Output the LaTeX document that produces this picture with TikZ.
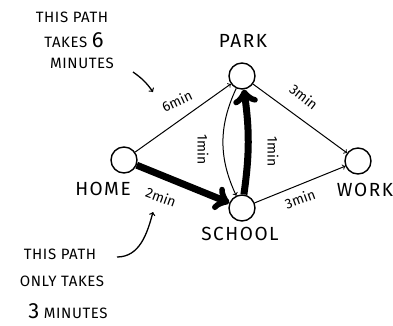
\documentclass[tikz,border=0pt]{standalone}
\usepackage{fontspec}
\setmainfont{Fira Sans}
\tikzset{
    place/.style={draw, circle, line width=1.4pt, minimum size=26pt, inner sep=0pt},
    caps/.style={font=\fontsize{19}{21}\selectfont\addfontfeature{LetterSpace=8}},
    note/.style={font=\fontsize{15}{17}\selectfont\addfontfeature{LetterSpace=4}},
    cost/.style={font=\fontsize{14}{15}\selectfont, inner sep=0pt},
    road/.style={->, line width=1pt},
    fast/.style={->, line width=7pt}
}
\begin{document}
\begin{tikzpicture}[x=1pt,y=-1pt]
        \useasboundingbox (0,0) rectangle (393,325);
        % places
            \foreach \n/\x/\y in {home/124/160,park/242/76,school/242/208,work/358/161}{
                \node[place] (\n) at (\x,\y) {};
            }
            \node[caps] (homelabel) at (103,189) {HOME};
            \node[caps] (parklabel) at (243,41) {PARK};
            \node[caps] (schoollabel) at (240,234) {SCHOOL};
            \node[caps] (worklabel) at (365,190) {WORK};
        % roads
            \foreach \a/\b in {home/park,park/work,school/work}{
                \draw[road] (\a) -- (\b);
            }
            \draw[road] (park) to[out=-115,in=115] (school);
            \draw[fast] (home) -- (school);
            \draw[fast] (school) to[bend right=8] (park);
        % costs
            \node[cost, rotate=25] (c1) at (177,101) {6min};
            \node[cost, rotate=-20] (c2) at (161,197) {2min};
            \node[cost, rotate=-90] (c3) at (203,150) {1min};
            \node[cost, rotate=-90] (c4) at (273,152) {1min};
            \node[cost, rotate=-38] (c5) at (304,97) {3min};
            \node[cost, rotate=20] (c6) at (300,199) {3min};
        % notes
            \node[note] (top1) at (72,17) {THIS PATH};
            \node[note] (top2) at (74,40) {TAKES \fontsize{22}{22}\selectfont 6};
            \node[note] (top3) at (82,63) {MINUTES};
            \node[note] (bot1) at (60,254) {THIS PATH};
            \node[note] (bot2) at (62,281) {ONLY TAKES};
            \node[note] (bot3) at (68,311) {{\fontsize{22}{22}\selectfont 3} MINUTES};
            \coordinate (toptail) at (133,72);
            \coordinate (tophead) at (153,92);
            \coordinate (bottail) at (117,257);
            \coordinate (bothead) at (153,212);
            \draw[->, line width=1.3pt] (toptail) to[bend left=10] (tophead);
            \draw[->, line width=1.3pt] (bottail) to[out=0,in=-105] (bothead);
\end{tikzpicture}
\end{document}
